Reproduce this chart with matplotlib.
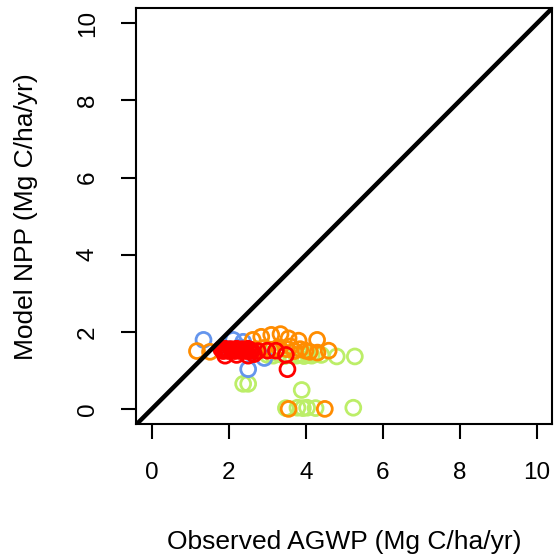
import matplotlib
matplotlib.use("Agg")
import matplotlib.pyplot as plt

plt.rcParams["font.family"] = ["Liberation Sans", "DejaVu Sans"]

# observed AGWP (x) vs model NPP (y), Mg C/ha/yr, one group per colour
green_x = [3.0, 3.15, 3.3, 3.45, 3.6, 3.75, 3.85, 3.95, 4.05, 4.15, 4.25, 4.4, 4.8, 5.27,
           2.37, 2.5, 3.89, 3.48, 3.78, 3.92, 4.03, 4.25, 5.23]
green_y = [1.40, 1.38, 1.42, 1.37, 1.40, 1.38, 1.42, 1.37, 1.40, 1.38, 1.42, 1.40, 1.36, 1.36,
           0.65, 0.65, 0.49, 0.02, 0.03, 0.02, 0.03, 0.02, 0.03]

blue_x = [1.34, 2.11, 2.37, 2.50, 2.0, 2.3, 2.6, 2.92]
blue_y = [1.79, 1.79, 1.74, 1.03, 1.55, 1.60, 1.50, 1.32]

orange_x = [1.17, 1.51, 2.62, 2.84, 3.10, 3.34, 3.55, 3.81, 4.29,
            2.70, 2.90, 3.10, 3.30, 3.50, 3.60, 3.70, 3.85, 3.99, 4.10, 4.30, 4.59,
            3.55, 4.49]
orange_y = [1.50, 1.48, 1.79, 1.87, 1.92, 1.94, 1.83, 1.77, 1.79,
            1.55, 1.58, 1.52, 1.60, 1.55, 1.62, 1.50, 1.55, 1.51, 1.48, 1.46, 1.51,
            0.00, 0.00]

red_x = [1.80, 1.85, 1.90, 1.95, 2.00, 2.05, 2.10, 2.15, 2.20, 2.25, 2.30, 2.35,
         2.40, 2.45, 2.50, 2.55, 2.60, 1.90, 2.20, 2.50, 2.65, 2.75,
         3.00, 3.22, 3.48, 3.52]
red_y = [1.55, 1.50, 1.56, 1.52, 1.50, 1.55, 1.52, 1.50, 1.56, 1.52, 1.50, 1.55,
         1.52, 1.50, 1.56, 1.52, 1.50, 1.38, 1.40, 1.38, 1.42, 1.50,
         1.51, 1.51, 1.40, 1.03]

fig = plt.figure(figsize=(5.56, 5.58), dpi=100)
ax = fig.add_axes([0.2455, 0.2396, 0.748, 0.7461])

marker_opts = dict(s=115, facecolors="none", linewidths=2.0)
ax.scatter(green_x, green_y, edgecolors="#BCEE68", **marker_opts)
ax.scatter(blue_x, blue_y, edgecolors="#6495ED", **marker_opts)
ax.scatter(orange_x, orange_y, edgecolors="#FF8C00", **marker_opts)
ax.scatter(red_x, red_y, edgecolors="#FF0000", **marker_opts)

# 1:1 line
ax.axline((0, 0), slope=1, color="black", linewidth=3.2)

ax.set_xlim(-0.4, 10.4)
ax.set_ylim(-0.4, 10.4)
ticks = [0, 2, 4, 6, 8, 10]
ax.set_xticks(ticks)
ax.set_yticks(ticks)
ax.set_yticklabels([str(t) for t in ticks], rotation=90, va="center")
ax.tick_params(direction="out", length=11, width=1.5, labelsize=17.5, pad=16)
for sp in ax.spines.values():
    sp.set_linewidth(1.5)

ax.set_xlabel("Observed AGWP (Mg C/ha/yr)", fontsize=19, labelpad=33)
ax.set_ylabel("Model NPP (Mg C/ha/yr)", fontsize=19, labelpad=28)

fig.savefig("out.png", dpi=100)
